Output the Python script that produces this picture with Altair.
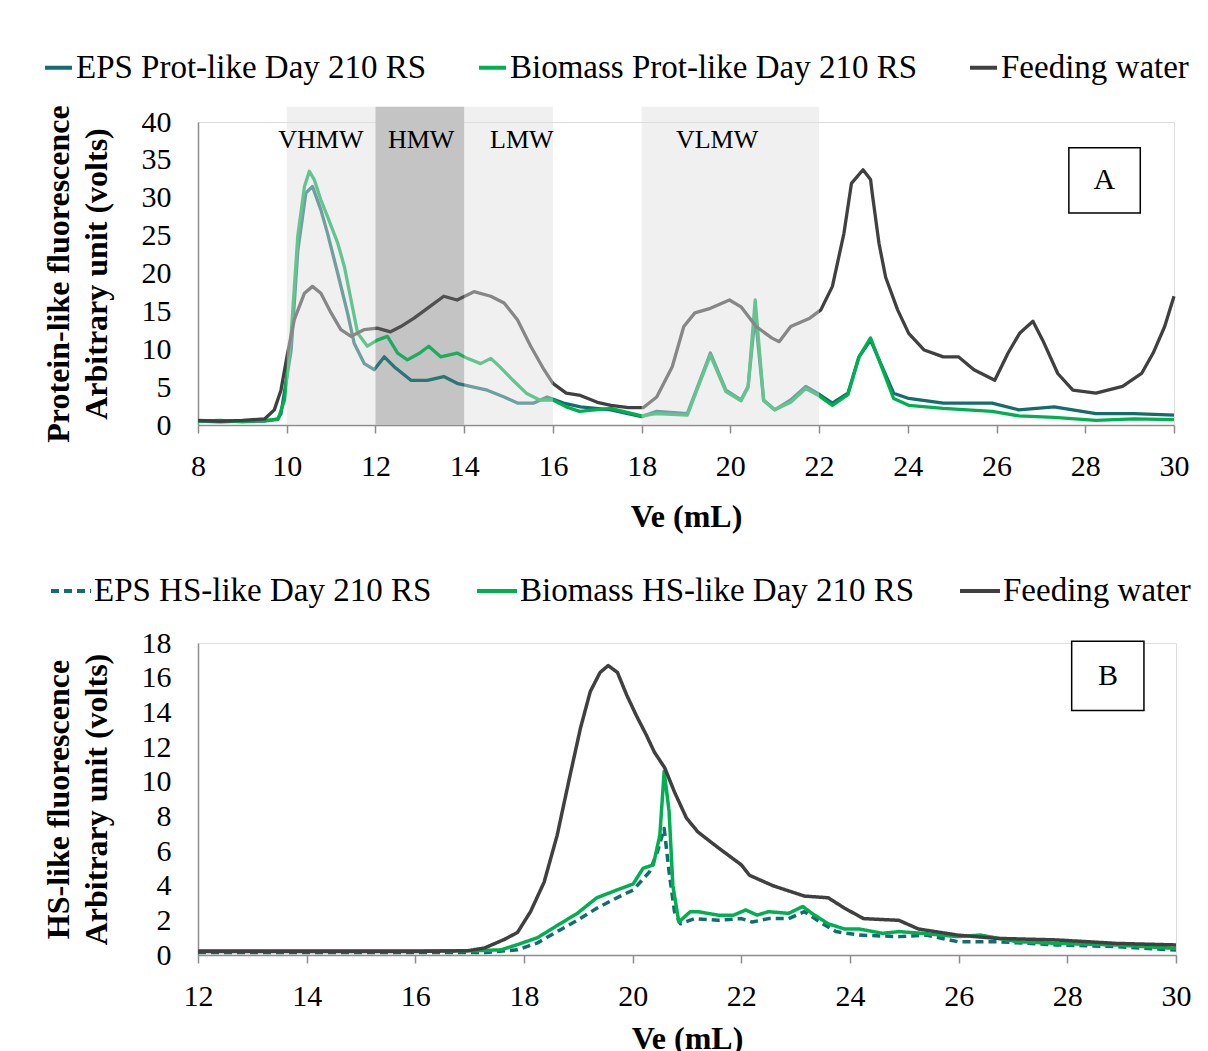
import altair as alt
import pandas as pd

SERIF = "Liberation Serif"

# ---------------- Panel A (protein-like) ----------------
A_SERIES = ["EPS Prot-like Day 210 RS", "Biomass Prot-like Day 210 RS", "Feeding water"]
B_SERIES = ["EPS HS-like Day 210 RS", "Biomass HS-like Day 210 RS", "Feeding water"]
COLORS = ["#136d6d", "#00b050", "#404040"]

a_eps_x = [8.0, 8.5, 9.0, 9.5, 9.8, 9.87, 10.1, 10.25, 10.43, 10.58, 10.77, 10.92, 11.15, 11.37,
           11.52, 11.75, 11.97, 12.2, 12.42, 12.8, 13.17, 13.54, 13.84, 14.14, 14.52, 14.9, 15.2,
           15.57, 15.87, 16.24, 16.62, 17.31, 18.0, 18.34, 19.03, 19.29, 19.55, 19.9, 20.24, 20.4,
           20.56, 20.75, 21.0, 21.36, 21.7, 21.96, 22.3, 22.65, 22.9, 23.16, 23.42, 23.68, 24.02,
           24.8, 25.9, 26.5, 27.3, 28.24, 29.1, 30.0]
a_eps_y = [0.5, 0.4, 0.5, 0.5, 0.8, 1.5, 9.9, 23.0, 30.6, 31.5, 28.4, 25.3, 20.0, 14.8,
           10.8, 8.1, 7.3, 9.0, 7.7, 5.9, 5.9, 6.4, 5.5, 5.1, 4.6, 3.7, 2.9,
           2.9, 3.7, 2.9, 2.4, 2.0, 1.1, 1.8, 1.5, 5.5, 9.5, 4.6, 3.3, 5.1,
           14.5, 3.3, 2.0, 3.3, 5.1, 4.2, 2.9, 4.2, 9.0, 11.2, 7.7, 4.2, 3.5,
           2.9, 2.9, 2.0, 2.4, 1.5, 1.5, 1.3]

a_bio_x = [8.0, 8.5, 9.0, 9.5, 9.8, 9.95, 10.1, 10.25, 10.4, 10.51, 10.62, 10.77, 10.92, 11.15,
           11.3, 11.45, 11.6, 11.82, 12.04, 12.27, 12.5, 12.72, 13.0, 13.2, 13.47, 13.84, 14.07,
           14.37, 14.6, 14.8, 15.1, 15.4, 15.7, 16.0, 16.3, 16.6, 17.3, 18.0, 18.34, 19.03, 19.29,
           19.55, 19.9, 20.24, 20.4, 20.56, 20.75, 21.0, 21.36, 21.7, 21.96, 22.3, 22.65, 22.9,
           23.16, 23.42, 23.68, 24.02, 24.8, 25.9, 26.5, 27.3, 28.24, 29.1, 30.0]
a_bio_y = [0.5, 0.6, 0.4, 0.6, 0.7, 3.3, 12.0, 25.0, 31.5, 33.5, 32.4, 29.7, 27.5, 24.0,
           20.9, 16.5, 12.1, 10.4, 11.2, 11.7, 9.5, 8.6, 9.5, 10.4, 9.0, 9.5, 8.8,
           8.1, 8.8, 7.7, 5.9, 4.2, 3.3, 3.3, 2.4, 1.8, 2.2, 1.2, 1.5, 1.3, 5.3,
           9.2, 4.4, 3.2, 5.0, 16.5, 3.2, 2.0, 3.0, 4.8, 4.0, 2.6, 4.0, 9.0,
           11.5, 7.5, 3.5, 2.6, 2.2, 1.8, 1.2, 1.0, 0.6, 0.8, 0.7]

a_feed_x = [8.0, 8.5, 9.0, 9.5, 9.72, 9.87, 10.02, 10.17, 10.4, 10.58, 10.77, 11.0, 11.22, 11.45,
            11.75, 12.04, 12.34, 12.57, 12.87, 13.17, 13.54, 13.84, 14.22, 14.6, 14.9, 15.2, 15.5,
            15.8, 16.0, 16.3, 16.62, 17.0, 17.31, 17.7, 18.04, 18.34, 18.69, 18.95, 19.2, 19.55,
            19.98, 20.24, 20.58, 20.93, 21.1, 21.36, 21.79, 22.04, 22.3, 22.56, 22.73, 22.99, 23.16,
            23.2, 23.35, 23.5, 23.77, 24.02, 24.37, 24.8, 25.14, 25.49, 25.96, 26.26, 26.52, 26.82,
            27.04, 27.38, 27.72, 28.24, 28.84, 29.27, 29.53, 29.79, 30.0]
a_feed_y = [0.6, 0.5, 0.6, 0.8, 2.0, 4.6, 9.5, 13.9, 17.4, 18.3, 17.4, 14.8, 12.6, 11.7,
            12.6, 12.8, 12.3, 13.0, 14.1, 15.4, 17.0, 16.5, 17.6, 17.0, 16.1, 13.9, 10.4,
            7.3, 5.5, 4.2, 3.9, 3.0, 2.6, 2.3, 2.3, 3.7, 7.7, 13.0, 14.8, 15.4,
            16.5, 15.6, 13.0, 11.5, 11.0, 13.0, 14.1, 15.2, 18.3, 25.3, 31.9, 33.7, 32.4,
            30.5, 24.0, 19.5, 15.2, 12.1, 9.9, 9.0, 9.0, 7.3, 5.9, 9.5, 12.1, 13.7,
            11.2, 6.8, 4.6, 4.2, 5.1, 6.8, 9.5, 13.0, 17.0]

# ---------------- Panel B (HS-like) ----------------
b_eps_x = [12.0, 14.0, 16.0, 17.3, 17.88, 18.25, 18.61, 18.98, 19.34, 19.71, 20.01, 20.31, 20.46,
           20.58, 20.67, 20.77, 20.88, 21.14, 21.57, 22.0, 22.2, 22.5, 22.87, 23.16, 23.45, 23.74,
           24.17, 24.9, 25.4, 25.98, 26.7, 27.8, 28.9, 30.0]
b_eps_y = [0.15, 0.15, 0.15, 0.15, 0.3, 0.7, 1.35, 2.0, 2.7, 3.3, 3.75, 4.8, 6.0,
           7.3, 4.8, 2.5, 1.8, 2.1, 2.0, 2.1, 1.9, 2.1, 2.1, 2.5, 1.9, 1.35,
           1.15, 1.06, 1.15, 0.77, 0.77, 0.58, 0.48, 0.29]

b_bio_x = [12.0, 14.0, 16.0, 17.15, 17.58, 17.88, 18.25, 18.61, 18.98, 19.34, 19.71, 20.01, 20.19,
           20.38, 20.5, 20.58, 20.67, 20.74, 20.85, 21.06, 21.2, 21.57, 21.86, 22.08, 22.29, 22.5,
           22.87, 23.13, 23.3, 23.6, 23.9, 24.17, 24.6, 24.9, 25.33, 25.98, 26.4, 27.07, 27.8,
           28.9, 30.0]
b_bio_y = [0.25, 0.25, 0.25, 0.25, 0.3, 0.6, 1.0, 1.7, 2.4, 3.3, 3.75, 4.1, 5.0,
           5.2, 6.9, 10.6, 8.3, 4.0, 1.9, 2.5, 2.5, 2.3, 2.3, 2.6, 2.3, 2.5,
           2.4, 2.8, 2.4, 1.8, 1.5, 1.5, 1.25, 1.35, 1.25, 1.06, 1.15, 0.77, 0.67,
           0.58, 0.38]

b_feed_x = [12.0, 13.0, 14.0, 15.0, 16.0, 16.97, 17.27, 17.64, 17.88, 18.12, 18.37, 18.61, 18.85,
            19.04, 19.22, 19.4, 19.55, 19.72, 19.89, 20.07, 20.25, 20.4, 20.59, 20.77, 20.99, 21.2,
            21.57, 22.0, 22.15, 22.58, 23.16, 23.6, 23.9, 24.25, 24.9, 25.26, 25.98, 26.7, 27.8,
            28.9, 30.0]
b_feed_y = [0.2, 0.2, 0.2, 0.2, 0.2, 0.25, 0.4, 0.9, 1.3, 2.5, 4.2, 6.9, 10.4,
            13.1, 15.2, 16.3, 16.7, 16.3, 15.0, 13.8, 12.7, 11.7, 10.8, 9.4, 7.9, 7.1,
            6.2, 5.2, 4.6, 4.0, 3.4, 3.3, 2.7, 2.1, 2.0, 1.5, 1.15, 0.96, 0.87,
            0.67, 0.58]

# shaded molecular-weight fractions (panel A)
region_names = ["VHMW", "HMW", "LMW", "VLMW"]
region_start = [10, 12, 14, 18]
region_end = [12, 14, 16, 22]
region_label_x = [10.77, 13.03, 15.3, 19.7]
region_label_y = 37.6
region_top = 42

A_XTICKS = [8, 10, 12, 14, 16, 18, 20, 22, 24, 26, 28, 30]
A_YTICKS = [0, 5, 10, 15, 20, 25, 30, 35, 40]
B_XTICKS = [12, 14, 16, 18, 20, 22, 24, 26, 28, 30]
B_YTICKS = [0, 2, 4, 6, 8, 10, 12, 14, 16, 18]


def frame(xs, ys, name):
    return pd.DataFrame({"x": xs, "y": ys, "series": name})


dfA = pd.concat([frame(a_eps_x, a_eps_y, A_SERIES[0]),
                 frame(a_bio_x, a_bio_y, A_SERIES[1]),
                 frame(a_feed_x, a_feed_y, A_SERIES[2])], ignore_index=True)
dfB = pd.concat([frame(b_eps_x, b_eps_y, B_SERIES[0]),
                 frame(b_bio_x, b_bio_y, B_SERIES[1]),
                 frame(b_feed_x, b_feed_y, B_SERIES[2])], ignore_index=True)

regions = pd.DataFrame({"name": region_names, "x": region_start, "x2": region_end,
                        "y": [0] * 4, "y2": [region_top] * 4,
                        "lx": region_label_x, "ly": [region_label_y] * 4})
dark_region = regions[regions["name"] == "HMW"]
light_regions = regions[regions["name"] != "HMW"]

boxA = pd.DataFrame({"x": [27.63], "x2": [29.24], "y": [28.0], "y2": [36.6],
                     "tx": [28.43], "ty": [32.3], "t": ["A"]})
boxB = pd.DataFrame({"x": [28.08], "x2": [29.41], "y": [14.1], "y2": [18.1],
                     "tx": [28.75], "ty": [16.1], "t": ["B"]})


def x_axis(values, title_pad):
    return alt.Axis(values=values, title="Ve (mL)", grid=False, labelFont=SERIF, titleFont=SERIF,
                    labelFontSize=30, titleFontSize=32, titleFontWeight="bold",
                    labelColor="black", titleColor="black", domainColor="#8c8c8c",
                    domainWidth=1.5, tickColor="#8c8c8c", tickWidth=1.5, tickSize=8,
                    labelPadding=18, titlePadding=title_pad, labelFlush=False,
                    labelOverlap=False, format="d")


def y_axis(values, title):
    return alt.Axis(values=values, title=title, grid=False, labelFont=SERIF, titleFont=SERIF,
                    labelFontSize=30, titleFontSize=32, titleFontWeight="bold",
                    labelColor="black", titleColor="black", domainColor="#8c8c8c",
                    domainWidth=1.5, ticks=False, labelPadding=27, titlePadding=28,
                    titleLineHeight=38, labelFlush=False, labelOverlap=False, format="d")


def legend(legend_x, legend_y, symbol_size, pad):
    return alt.Legend(orient="none", legendX=legend_x, legendY=legend_y, direction="horizontal",
                      title=None, labelFont=SERIF, labelFontSize=33, labelColor="black",
                      symbolType="stroke", symbolSize=symbol_size, symbolStrokeWidth=4,
                      labelOffset=1, columnPadding=pad, labelLimit=0)


# ---- panel A ----
axA_x = x_axis(A_XTICKS, 20)
axA_y = y_axis(A_YTICKS, ["Protein-like fluorescence", "Arbitrary unit (volts)"])
scA_x = alt.Scale(domain=[8, 30], nice=False, zero=False)
scA_y = alt.Scale(domain=[0, 40], nice=False)

hmw = alt.Chart(dark_region).mark_rect(fill="#cdcdcd").encode(
    x=alt.X("x:Q", scale=scA_x, axis=axA_x), x2="x2",
    y=alt.Y("y:Q", scale=scA_y, axis=axA_y), y2="y2")

linesA = alt.Chart(dfA).mark_line(strokeWidth=3.3, strokeJoin="round").encode(
    x=alt.X("x:Q", scale=scA_x, axis=axA_x),
    y=alt.Y("y:Q", scale=scA_y, axis=axA_y),
    color=alt.Color("series:N", scale=alt.Scale(domain=A_SERIES, range=COLORS),
                    legend=legend(-156, -71, 729, 44)))

light = alt.Chart(light_regions).mark_rect(fill="#dedede", opacity=0.45).encode(
    x=alt.X("x:Q", scale=scA_x, axis=axA_x), x2="x2",
    y=alt.Y("y:Q", scale=scA_y, axis=axA_y), y2="y2")

hmw_top = alt.Chart(dark_region).mark_rect(fill="#9a9a9a", opacity=0.18).encode(
    x=alt.X("x:Q", scale=scA_x, axis=axA_x), x2="x2",
    y=alt.Y("y:Q", scale=scA_y, axis=axA_y), y2="y2")

labelsA = alt.Chart(regions).mark_text(font=SERIF, fontSize=26, color="black").encode(
    x=alt.X("lx:Q", scale=scA_x, axis=axA_x),
    y=alt.Y("ly:Q", scale=scA_y, axis=axA_y), text="name:N")

boxA_rect = alt.Chart(boxA).mark_rect(fill="white", stroke="black", strokeWidth=1.5).encode(
    x=alt.X("x:Q", scale=scA_x, axis=axA_x), x2="x2",
    y=alt.Y("y:Q", scale=scA_y, axis=axA_y), y2="y2")
boxA_text = alt.Chart(boxA).mark_text(font=SERIF, fontSize=30, color="black").encode(
    x=alt.X("tx:Q", scale=scA_x, axis=axA_x),
    y=alt.Y("ty:Q", scale=scA_y, axis=axA_y), text="t:N")

panelA = alt.layer(hmw, linesA, light, hmw_top, labelsA, boxA_rect, boxA_text).properties(
    width=976, height=303)

# ---- panel B ----
axB_x = x_axis(B_XTICKS, 12)
axB_y = y_axis(B_YTICKS, ["HS-like fluorescence", "Arbitrary unit (volts)"])
scB_x = alt.Scale(domain=[12, 30], nice=False, zero=False)
scB_y = alt.Scale(domain=[0, 18], nice=False)

legB = legend(-149, -74, 1600, 37)
linesB = alt.Chart(dfB).mark_line(strokeWidth=3.5, strokeJoin="round").encode(
    x=alt.X("x:Q", scale=scB_x, axis=axB_x),
    y=alt.Y("y:Q", scale=scB_y, axis=axB_y),
    color=alt.Color("series:N", scale=alt.Scale(domain=B_SERIES, range=COLORS), legend=legB),
    strokeDash=alt.StrokeDash("series:N",
                              scale=alt.Scale(domain=B_SERIES, range=[[8, 5], [1, 0], [1, 0]]),
                              legend=legB))

boxB_rect = alt.Chart(boxB).mark_rect(fill="white", stroke="black", strokeWidth=1.5).encode(
    x=alt.X("x:Q", scale=scB_x, axis=axB_x), x2="x2",
    y=alt.Y("y:Q", scale=scB_y, axis=axB_y), y2="y2")
boxB_text = alt.Chart(boxB).mark_text(font=SERIF, fontSize=30, color="black").encode(
    x=alt.X("tx:Q", scale=scB_x, axis=axB_x),
    y=alt.Y("ty:Q", scale=scB_y, axis=axB_y), text="t:N")

panelB = alt.layer(linesB, boxB_rect, boxB_text).properties(width=978, height=312)

chart = alt.vconcat(panelA, panelB, spacing=35).resolve_scale(
    x="independent", y="independent", color="independent", strokeDash="independent"
).properties(
    padding={"left": 33, "top": 42, "right": 3, "bottom": 5}
).configure_view(stroke=None).configure(background="white")

chart.save("out.html", embed_options={"renderer": "svg", "actions": False})
